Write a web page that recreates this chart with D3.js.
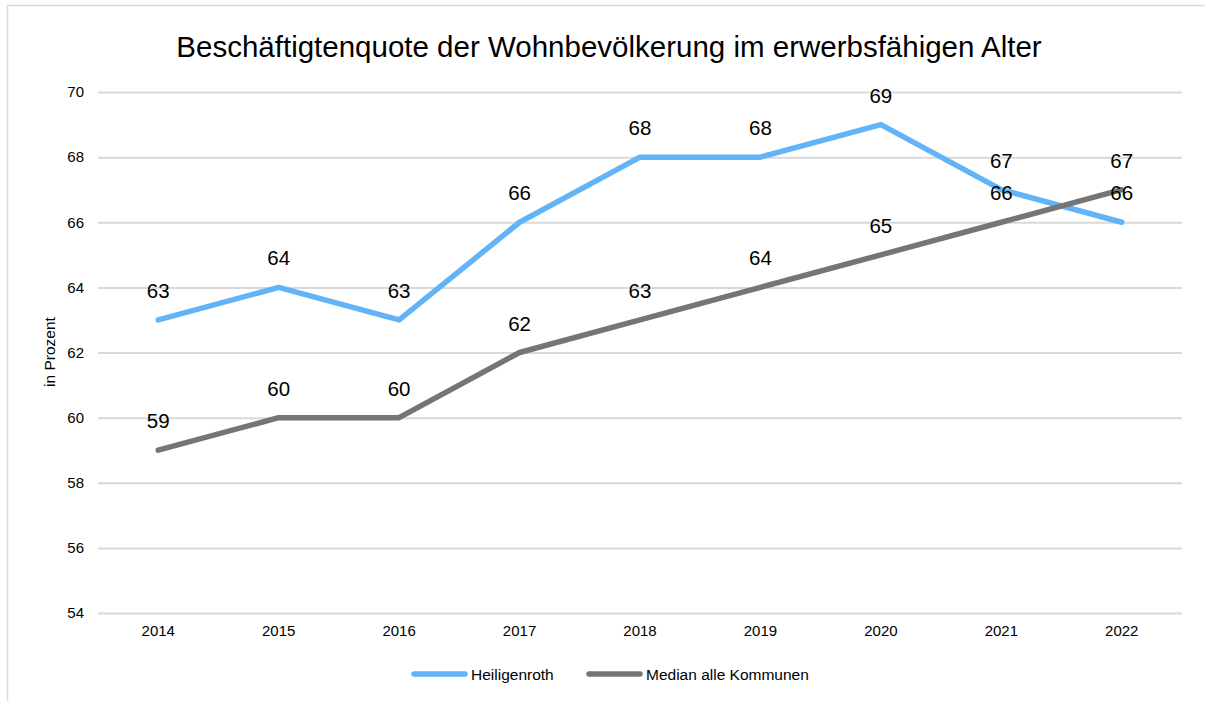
<!DOCTYPE html>
<html>
<head>
<meta charset="utf-8">
<script src="https://cdn.jsdelivr.net/npm/d3@7"></script>
<style>
  html, body { margin: 0; padding: 0; background: #fff; }
  svg { display: block; font-family: "Liberation Sans", Arial, sans-serif; }
</style>
</head>
<body>
<svg id="chart" width="1205" height="701"></svg>
<script>
// Jahre und Werte (Prozent)
const years = ["2014", "2015", "2016", "2017", "2018", "2019", "2020", "2021", "2022"];
const heiligenroth = [63, 64, 63, 66, 68, 68, 69, 67, 66];
const medianKommunen = [59, 60, 60, 62, 63, 64, 65, 66, 67];
const yTicks = [54, 56, 58, 60, 62, 64, 66, 68, 70];

const seriesNames = ["Heiligenroth", "Median alle Kommunen"];
const seriesColors = ["#62B4F6", "#757575"];
const seriesValues = [heiligenroth, medianKommunen];

const W = 1205, H = 701;
const plot = { left: 98, right: 1182, top: 92, bottom: 613 };
const FONT = "Liberation Sans, Arial, sans-serif";

const svg = d3.select("#chart");

// Rahmen des Diagrammbereichs
svg.append("rect")
  .attr("x", 7.5).attr("y", 5.5)
  .attr("width", W + 20).attr("height", H + 20)
  .attr("fill", "none").attr("stroke", "#d9d9d9").attr("stroke-width", 1.5);

const x = d3.scaleBand().domain(years).range([plot.left, plot.right]).padding(0);
const y = d3.scaleLinear().domain([54, 70]).range([plot.bottom, plot.top]);
const cx = d => x(d) + x.bandwidth() / 2;

// Titel
svg.append("text")
  .attr("x", 609).attr("y", 57)
  .attr("text-anchor", "middle")
  .attr("font-size", 29.5)
  .attr("fill", "#000")
  .text("Beschäftigtenquote der Wohnbevölkerung im erwerbsfähigen Alter");

// Gitterlinien und y-Achse
const yAxis = d3.axisLeft(y).tickValues(yTicks).tickSize(-(plot.right - plot.left)).tickPadding(14);
const gy = svg.append("g").attr("transform", `translate(${plot.left},0)`).call(yAxis);
gy.select(".domain").remove();
gy.selectAll(".tick line").attr("stroke", "#d9d9d9").attr("stroke-width", 2);
gy.selectAll(".tick text").attr("font-size", 15).attr("fill", "#000").attr("font-family", FONT);

// x-Achse
const xAxis = d3.axisBottom(x).tickSize(0).tickPadding(12);
const gx = svg.append("g").attr("transform", `translate(0,${plot.bottom})`).call(xAxis);
gx.select(".domain").remove();
gx.selectAll(".tick text").attr("font-size", 15).attr("fill", "#000").attr("font-family", FONT);

// y-Achsentitel
svg.append("text")
  .attr("transform", "translate(55,352) rotate(-90)")
  .attr("text-anchor", "middle")
  .attr("font-size", 15.5)
  .attr("fill", "#000")
  .text("in Prozent");

// Linien
const line = d3.line().x((d, i) => cx(years[i])).y(d => y(d));
seriesValues.forEach((vals, s) => {
  svg.append("path")
    .datum(vals)
    .attr("d", line)
    .attr("fill", "none")
    .attr("stroke", seriesColors[s])
    .attr("stroke-width", 5.5)
    .attr("stroke-linecap", "round")
    .attr("stroke-linejoin", "round");
});

// Datenbeschriftungen
seriesValues.forEach((vals) => {
  svg.append("g").selectAll("text")
    .data(vals)
    .join("text")
    .attr("x", (d, i) => cx(years[i]))
    .attr("y", d => y(d) - 22)
    .attr("text-anchor", "middle")
    .attr("font-size", 20.5)
    .attr("fill", "#000")
    .text(d => d);
});

// Legende
const legend = [
  { name: seriesNames[0], color: seriesColors[0], x: 414 },
  { name: seriesNames[1], color: seriesColors[1], x: 589 }
];
legend.forEach(l => {
  svg.append("line")
    .attr("x1", l.x).attr("x2", l.x + 51)
    .attr("y1", 674).attr("y2", 674)
    .attr("stroke", l.color).attr("stroke-width", 5.5)
    .attr("stroke-linecap", "round");
  svg.append("text")
    .attr("x", l.x + 57).attr("y", 679.5)
    .attr("font-size", 15.5).attr("fill", "#000")
    .text(l.name);
});
</script>
</body>
</html>
